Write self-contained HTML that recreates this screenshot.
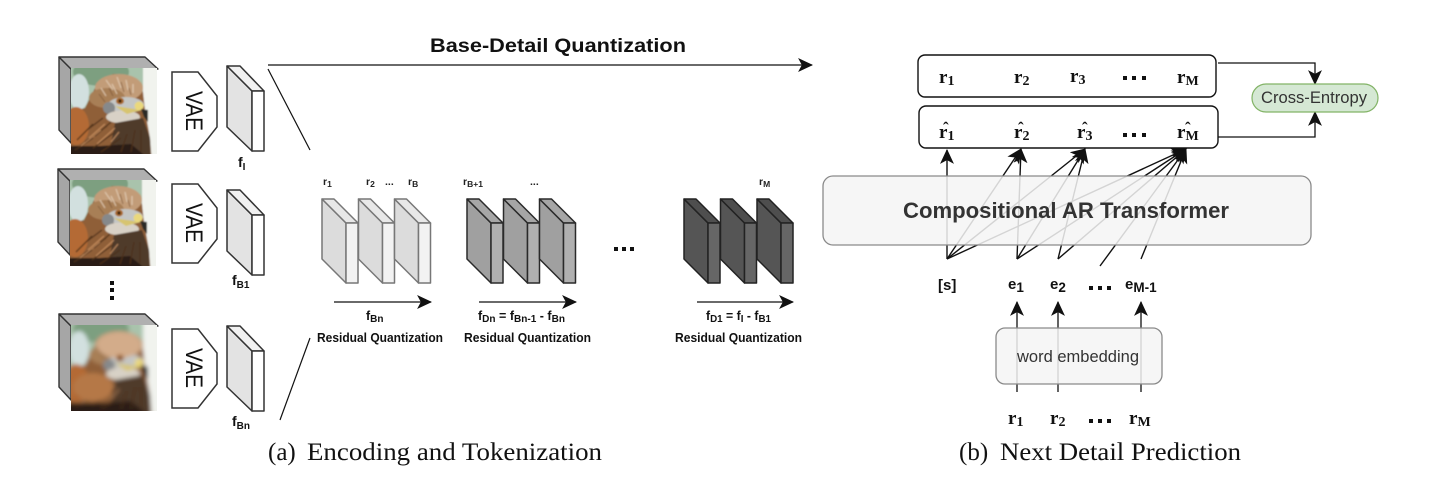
<!DOCTYPE html>
<html><head><meta charset="utf-8"><style>
html,body{margin:0;padding:0;background:#fff;width:1433px;height:499px;overflow:hidden}
svg{display:block}
text{font-family:"Liberation Sans",sans-serif}
.b{font-weight:bold;fill:#111}
.m{font-family:"Liberation Serif",serif;font-weight:bold;font-size:19px;fill:#111}
.ms{font-family:"Liberation Serif",serif;font-weight:bold;font-size:14px;fill:#111}
.h{font-family:"Liberation Serif",serif;font-weight:bold;font-size:17px;fill:#111}
.rq{font-weight:bold;font-size:12.5px;fill:#111}
.lb{font-weight:bold;font-size:12.5px;fill:#111}
.sm{font-weight:bold;font-size:10.5px;fill:#222}
.cap{font-family:"Liberation Serif",serif;font-size:25px;fill:#111}
</style></head><body>
<svg width="1433" height="499" viewBox="0 0 1433 499" xmlns="http://www.w3.org/2000/svg">
<defs>
<filter id="bl1" x="-10%" y="-10%" width="120%" height="120%"><feGaussianBlur stdDeviation="0.9"/></filter>
<filter id="bl2" x="-10%" y="-10%" width="120%" height="120%"><feGaussianBlur stdDeviation="2.2"/></filter>
<clipPath id="cp"><rect width="86" height="86"/></clipPath>
<marker id="ah" markerUnits="userSpaceOnUse" markerWidth="15" markerHeight="15" refX="13" refY="6.5" orient="auto" viewBox="0 0 14 13"><path d="M0,0 L14,6.5 L0,13 L3.5,6.5 Z" fill="#111"/></marker>
<g id="birdshapes">
<rect x="-10" y="-10" width="106" height="106" fill="#a9c3ac"/>
<ellipse cx="30" cy="4" rx="28" ry="14" fill="#7d9f80"/>
<ellipse cx="8" cy="24" rx="10" ry="18" fill="#d2e0df"/>
<rect x="72" y="-10" width="24" height="106" fill="#f1f3ee"/>
<path d="M-8 46 L14 40 L24 20 L42 6 L60 8 L72 24 L74 42 L79 70 L81 96 L-8 96 Z" fill="#8f5f38"/>
<ellipse cx="5" cy="58" rx="13" ry="19" fill="#b46a36"/>
<ellipse cx="48" cy="20" rx="24" ry="14" fill="#c29c78"/>
<ellipse cx="36" cy="30" rx="18" ry="10" fill="#a87f57"/>
<ellipse cx="55" cy="37" rx="18" ry="8" fill="#c4c6c4"/>
<ellipse cx="38" cy="40" rx="6" ry="6" fill="#86898b"/>
<ellipse cx="52" cy="49" rx="17" ry="6.5" fill="#d8d1c6"/>
<path d="M44 55 L72 50 L79 70 L80 96 L36 96 Z" fill="#4f3b2c"/>
<path d="M-8 96 L-8 78 L30 78 L60 76 L84 96 Z" fill="#2a1d14"/>
<g stroke="#4e3019" stroke-width="1.3" fill="none" opacity=".9">
<path d="M14 74 L36 58M22 80 L44 64M30 84 L50 70M6 72 L22 56M16 62 L32 50M24 68 L40 54M50 84 L56 66M60 84 L64 62M70 84 L70 62M4 82 L22 70"/>
</g>
<g stroke="#d49a68" stroke-width="1.1" fill="none" opacity=".8">
<path d="M10 78 L30 62M26 76 L44 60M18 70 L34 56M40 74 L48 64"/>
</g>
<g stroke="#e6d1ba" stroke-width="1" fill="none" opacity=".9"><path d="M35 12 L42 22M46 9 L50 20M55 12 L57 22M30 20 L35 28M41 16 L46 26M62 16 L62 25"/></g>
<g stroke="#7a5534" stroke-width=".9" fill="none" opacity=".8"><path d="M28 26 L34 34M38 20 L42 28M50 14 L53 24M58 20 L60 27"/></g>
<ellipse cx="49" cy="33" rx="4" ry="3.4" fill="#a9682a"/>
<circle cx="49" cy="33" r="1.6" fill="#2d1c10"/>
<path d="M44 38 L70 42 L56 46 Z" fill="#d7c46f"/>
<ellipse cx="68" cy="38" rx="4.5" ry="4.5" fill="#ead87c"/>
<path d="M70 41 L77 42 L77 54 L73 49 Z" fill="#2c2a28"/>
</g>
<g id="bird1" clip-path="url(#cp)"><use href="#birdshapes" filter="url(#bl1)"/></g>
<g id="bird3" clip-path="url(#cp)"><g filter="url(#bl2)"><use href="#birdshapes"/><ellipse cx="48" cy="20" rx="22" ry="13" fill="#d3ac8a"/><ellipse cx="22" cy="62" rx="20" ry="14" fill="#b57846"/><ellipse cx="49" cy="33" rx="4" ry="3.4" fill="#a9682a"/><circle cx="49" cy="33" r="1.6" fill="#2d1c10"/><path d="M70 40 L77 42 L77 54 L73 49 Z" fill="#2c2a28"/></g></g>
<g id="cubeframe" stroke="#333" stroke-width="1.4" stroke-linejoin="round">
<path d="M0 12 L-12 0 L-12 73 L0 86 Z" fill="#a6a6a6"/>
<path d="M0 12 L-12 0 L74 0 L87 12 Z" fill="#b0b0b0"/>
</g>
<path id="vae" d="M0 0 H26 L45 24 V55 L26 79 H0 Z" fill="#fff" stroke="#333" stroke-width="1.5"/>
<g id="fbox" stroke="#333" stroke-width="1.5" stroke-linejoin="round">
<path d="M0 0 L25 25 V85 L0 61 Z" fill="#e3e3e3"/>
<path d="M0 0 H13 L37 25 H25 Z" fill="#f1f1f1"/>
<rect x="25" y="25" width="12" height="60" fill="#fff"/>
</g>
<g id="rl" stroke="#777" stroke-width="1.5" stroke-linejoin="round">
<path d="M0 0 L24 24 V84 L0 60 Z" fill="#dcdcdc"/>
<path d="M0 0 H12 L36 24 H24 Z" fill="#e8e8e8"/>
<rect x="24" y="24" width="12" height="60" fill="#f2f2f2"/>
</g>
<g id="rm" stroke="#2a2a2a" stroke-width="1.5" stroke-linejoin="round">
<path d="M0 0 L24 24 V84 L0 60 Z" fill="#a0a0a0"/>
<path d="M0 0 H12 L36 24 H24 Z" fill="#a6a6a6"/>
<rect x="24" y="24" width="12" height="60" fill="#b0b0b0"/>
</g>
<g id="rd" stroke="#222" stroke-width="1.5" stroke-linejoin="round">
<path d="M0 0 L24 24 V84 L0 60 Z" fill="#555"/>
<path d="M0 0 H12 L36 24 H24 Z" fill="#4e4e4e"/>
<rect x="24" y="24" width="12" height="60" fill="#666"/>
</g>
</defs>

<!-- cubes -->
<use href="#cubeframe" x="71" y="57"/><use href="#bird1" x="71" y="68"/>
<use href="#cubeframe" x="70" y="169"/><use href="#bird1" x="70" y="180"/>
<use href="#cubeframe" x="71" y="314"/><use href="#bird3" x="71" y="325"/>

<!-- vertical dots -->
<g fill="#111"><rect x="110" y="281" width="4" height="4"/><rect x="110" y="288" width="4" height="4"/><rect x="110" y="296" width="4" height="4"/></g>

<!-- VAE -->
<use href="#vae" x="172" y="72"/><use href="#vae" x="172" y="184"/><use href="#vae" x="172" y="329"/>
<g font-size="24" fill="#111" text-anchor="middle">
<text transform="translate(186,111) rotate(90)" textLength="40" lengthAdjust="spacingAndGlyphs">VAE</text>
<text transform="translate(186,223) rotate(90)" textLength="40" lengthAdjust="spacingAndGlyphs">VAE</text>
<text transform="translate(186,368) rotate(90)" textLength="40" lengthAdjust="spacingAndGlyphs">VAE</text>
</g>

<!-- feature boxes -->
<use href="#fbox" x="227" y="66"/><use href="#fbox" x="227" y="190"/><use href="#fbox" x="227" y="326"/>
<text x="238" y="167" class="b" font-size="14">f<tspan font-size="10" dy="3">I</tspan></text>
<text x="232" y="285" class="b" font-size="14">f<tspan font-size="10" dy="3">B1</tspan></text>
<text x="232" y="426" class="b" font-size="14">f<tspan font-size="10" dy="3">Bn</tspan></text>

<!-- Base-detail arrow and lines -->
<line x1="268" y1="65" x2="812" y2="65" stroke="#111" stroke-width="1.3" marker-end="url(#ah)"/>
<line x1="268" y1="69" x2="310" y2="150" stroke="#111" stroke-width="1.2"/>
<line x1="280" y1="420" x2="310" y2="338" stroke="#111" stroke-width="1.2"/>
<text x="430" y="52" class="b" font-size="19.5" textLength="256" lengthAdjust="spacingAndGlyphs">Base-Detail Quantization</text>

<!-- residual blocks -->
<use href="#rl" x="322" y="199"/><use href="#rl" x="358.5" y="199"/><use href="#rl" x="394.5" y="199"/>
<use href="#rm" x="467" y="199"/><use href="#rm" x="503.5" y="199"/><use href="#rm" x="539.5" y="199"/>
<use href="#rd" x="684" y="199"/><use href="#rd" x="720.5" y="199"/><use href="#rd" x="757" y="199"/>

<text x="323" y="185" class="sm">r<tspan font-size="8.5" dy="2">1</tspan></text>
<text x="366" y="185" class="sm">r<tspan font-size="8.5" dy="2">2</tspan></text>
<text x="385" y="185" class="sm">...</text>
<text x="408" y="185" class="sm">r<tspan font-size="8.5" dy="2">B</tspan></text>
<text x="463" y="185" class="sm">r<tspan font-size="8.5" dy="2">B+1</tspan></text>
<text x="530" y="185" class="sm">...</text>
<text x="759" y="185" class="sm">r<tspan font-size="8.5" dy="2">M</tspan></text>

<g fill="#111"><rect x="614" y="247" width="4" height="4"/><rect x="622" y="247" width="4" height="4"/><rect x="630" y="247" width="4" height="4"/></g>

<g stroke="#111" stroke-width="1.3">
<line x1="334" y1="302" x2="431" y2="302" marker-end="url(#ah)"/>
<line x1="479" y1="302" x2="576" y2="302" marker-end="url(#ah)"/>
<line x1="697" y1="302" x2="793" y2="302" marker-end="url(#ah)"/>
</g>
<text x="366" y="320" class="lb">f<tspan font-size="10" dy="2">Bn</tspan></text>
<text x="478" y="320" class="lb" textLength="87" lengthAdjust="spacingAndGlyphs">f<tspan font-size="10" dy="2">Dn</tspan><tspan dy="-2"> = f</tspan><tspan font-size="10" dy="2">Bn-1</tspan><tspan dy="-2"> - f</tspan><tspan font-size="10" dy="2">Bn</tspan></text>
<text x="706" y="320" class="lb" textLength="65" lengthAdjust="spacingAndGlyphs">f<tspan font-size="10" dy="2">D1</tspan><tspan dy="-2"> = f</tspan><tspan font-size="10" dy="2">I</tspan><tspan dy="-2"> - f</tspan><tspan font-size="10" dy="2">B1</tspan></text>
<text x="317" y="342" class="rq" textLength="126" lengthAdjust="spacingAndGlyphs">Residual Quantization</text>
<text x="464" y="342" class="rq" textLength="127" lengthAdjust="spacingAndGlyphs">Residual Quantization</text>
<text x="675" y="342" class="rq" textLength="127" lengthAdjust="spacingAndGlyphs">Residual Quantization</text>

<!-- right: connectors beneath transformer -->
<g stroke="#111" stroke-width="1.4" fill="none">
<line x1="947" y1="259" x2="947" y2="150" marker-end="url(#ah)"/>
<line x1="947" y1="259" x2="1021" y2="149" marker-end="url(#ah)"/>
<line x1="947" y1="259" x2="1085" y2="149" marker-end="url(#ah)"/>
<line x1="947" y1="259" x2="1186" y2="149" marker-end="url(#ah)"/>
<line x1="1017" y1="259" x2="1021" y2="149" marker-end="url(#ah)"/>
<line x1="1017" y1="259" x2="1085" y2="149" marker-end="url(#ah)"/>
<line x1="1017" y1="259" x2="1186" y2="149" marker-end="url(#ah)"/>
<line x1="1058" y1="259" x2="1085" y2="149" marker-end="url(#ah)"/>
<line x1="1058" y1="259" x2="1186" y2="149" marker-end="url(#ah)"/>
<line x1="1100" y1="266" x2="1186" y2="149" marker-end="url(#ah)"/>
<line x1="1141" y1="259" x2="1186" y2="149" marker-end="url(#ah)"/>
</g>
<rect x="823" y="176" width="488" height="69" rx="10" fill="#f5f5f5" fill-opacity="0.86" stroke="#8a8a8a" stroke-width="1.3"/>
<text x="903" y="218" font-size="22.5" font-weight="bold" fill="#333" textLength="326" lengthAdjust="spacingAndGlyphs">Compositional AR Transformer</text>

<!-- r boxes -->
<rect x="918" y="55" width="298" height="42" rx="7" fill="#fff" stroke="#111" stroke-width="1.4"/>
<rect x="919" y="106" width="299" height="42" rx="7" fill="#fff" stroke="#111" stroke-width="1.4"/>

<g>
<text x="939" y="83" class="m">r<tspan class="ms" dy="2">1</tspan></text>
<text x="1014" y="83" class="m">r<tspan class="ms" dy="2">2</tspan></text>
<text x="1070" y="82" class="m">r<tspan class="ms" dy="2">3</tspan></text>
<text x="1177" y="83" class="m">r<tspan class="ms" dy="2">M</tspan></text>
<text x="939" y="138" class="m">r<tspan class="ms" dy="2">1</tspan></text>
<text x="1014" y="138" class="m">r<tspan class="ms" dy="2">2</tspan></text>
<text x="1077" y="138" class="m">r<tspan class="ms" dy="2">3</tspan></text>
<text x="1177" y="138" class="m">r<tspan class="ms" dy="2">M</tspan></text>
<text x="943" y="134" class="h">ˆ</text>
<text x="1018" y="134" class="h">ˆ</text>
<text x="1082" y="134" class="h">ˆ</text>
<text x="1185" y="134" class="h">ˆ</text>
</g>
<g fill="#111">
<rect x="1123" y="76" width="4" height="4"/><rect x="1132" y="76" width="4" height="4"/><rect x="1142" y="76" width="4" height="4"/>
<rect x="1123" y="133" width="4" height="4"/><rect x="1132" y="133" width="4" height="4"/><rect x="1142" y="133" width="4" height="4"/>
<rect x="1089" y="286" width="4" height="4"/><rect x="1098" y="286" width="4" height="4"/><rect x="1107" y="286" width="4" height="4"/>
<rect x="1089" y="419" width="4" height="4"/><rect x="1098" y="419" width="4" height="4"/><rect x="1107" y="419" width="4" height="4"/>
</g>

<!-- cross-entropy -->
<g stroke="#111" stroke-width="1.3" fill="none">
<path d="M1218 63 H1315 V84" marker-end="url(#ah)"/>
<path d="M1218 137 H1315 V112" marker-end="url(#ah)"/>
</g>
<rect x="1252" y="84" width="126" height="28" rx="14" fill="#d5e8d4" stroke="#82b366" stroke-width="1.2"/>
<text x="1261" y="103" font-size="16.5" fill="#333" textLength="106" lengthAdjust="spacingAndGlyphs">Cross-Entropy</text>

<!-- embedding -->
<g stroke="#111" stroke-width="1.3">
<line x1="1017" y1="392" x2="1017" y2="302" marker-end="url(#ah)"/>
<line x1="1058" y1="392" x2="1058" y2="302" marker-end="url(#ah)"/>
<line x1="1141" y1="392" x2="1141" y2="302" marker-end="url(#ah)"/>
</g>
<rect x="996" y="328" width="166" height="56" rx="9" fill="#f5f5f5" fill-opacity="0.85" stroke="#8a8a8a" stroke-width="1.3"/>
<text x="1017" y="362" font-size="16.5" fill="#333" textLength="122" lengthAdjust="spacingAndGlyphs">word embedding</text>

<text x="938" y="290" class="b" font-size="15">[s]</text>
<text x="1008" y="289" class="b" font-size="15">e<tspan font-size="13.5" dy="3">1</tspan></text>
<text x="1050" y="289" class="b" font-size="15">e<tspan font-size="13.5" dy="3">2</tspan></text>
<text x="1125" y="289" class="b" font-size="15">e<tspan font-size="13.5" dy="3">M-1</tspan></text>

<text x="1008" y="424" class="m">r<tspan class="ms" dy="2">1</tspan></text>
<text x="1050" y="424" class="m">r<tspan class="ms" dy="2">2</tspan></text>
<text x="1129" y="424" class="m">r<tspan class="ms" dy="2">M</tspan></text>

<!-- captions -->
<text x="268" y="460" class="cap">(a)</text>
<text x="307" y="460" class="cap" textLength="295" lengthAdjust="spacingAndGlyphs">Encoding and Tokenization</text>
<text x="959" y="460" class="cap">(b)</text>
<text x="1000" y="460" class="cap" textLength="241" lengthAdjust="spacingAndGlyphs">Next Detail Prediction</text>
</svg>
</body></html>
